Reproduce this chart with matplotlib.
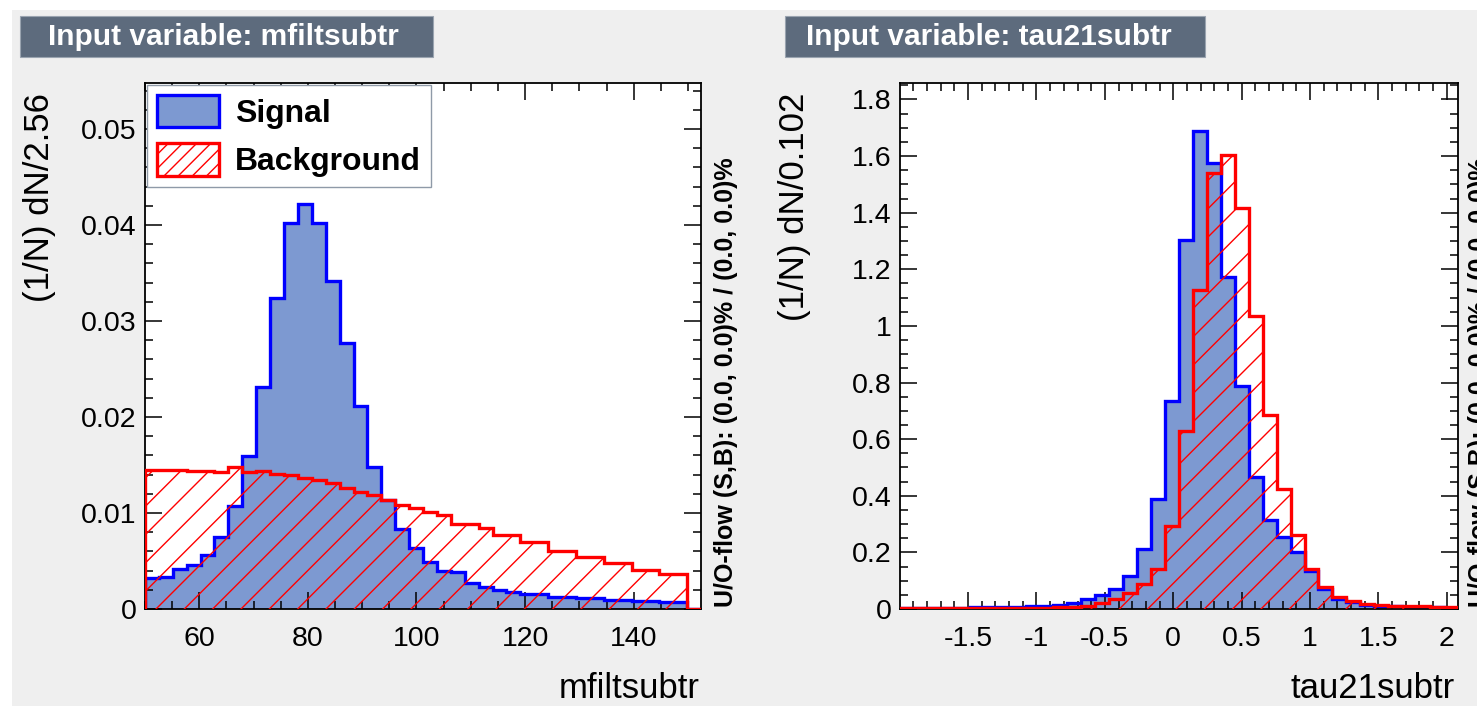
import numpy as np
import matplotlib
matplotlib.use('Agg')
import matplotlib.pyplot as plt
from matplotlib.patches import Rectangle, Patch
from matplotlib.ticker import MultipleLocator, FuncFormatter

# hatch spacing is tied to dpi, so render at 85 dpi and scale point sizes up
DPI = 85
S = 100.0 / DPI

plt.rcParams['font.family'] = ['Liberation Sans', 'DejaVu Sans']
plt.rcParams['axes.unicode_minus'] = False
plt.rcParams['hatch.color'] = 'red'
plt.rcParams['hatch.linewidth'] = 1.0 * S

# binning: 40 bins per variable
mfilt_range = (50.0, 152.4)
tau_range = (-1.998, 2.082)
n_bins = 40

# normalised histograms, (1/N) dN/dx
sig_mfilt = [0.0032, 0.0033, 0.0042, 0.0046, 0.0056, 0.0075, 0.0107, 0.0159, 0.0231, 0.0324,
             0.0402, 0.0422, 0.0402, 0.0342, 0.0277, 0.0212, 0.0148, 0.0114, 0.0083, 0.0064,
             0.0049, 0.0040, 0.0039, 0.0027, 0.0023, 0.0020, 0.0018, 0.0016, 0.0016, 0.0013,
             0.0013, 0.0011, 0.0011, 0.0009, 0.0009, 0.0008, 0.0008, 0.0007, 0.0007, 0.0]
bkg_mfilt = [0.0145, 0.0145, 0.0145, 0.0144, 0.0144, 0.0143, 0.0148, 0.0143, 0.0144, 0.0141,
             0.0140, 0.0136, 0.0134, 0.0131, 0.0126, 0.0122, 0.0119, 0.0114, 0.0108, 0.0105,
             0.0101, 0.0098, 0.0089, 0.0089, 0.0084, 0.0077, 0.0077, 0.0070, 0.0070, 0.0060,
             0.0060, 0.0054, 0.0054, 0.0048, 0.0048, 0.0041, 0.0041, 0.0036, 0.0036, 0.0]

sig_tau = [0.004, 0.004, 0.004, 0.004, 0.005, 0.006, 0.006, 0.007, 0.008, 0.009,
           0.012, 0.015, 0.021, 0.035, 0.049, 0.070, 0.115, 0.211, 0.387, 0.736,
           1.304, 1.688, 1.574, 1.174, 0.786, 0.468, 0.315, 0.255, 0.203, 0.133,
           0.070, 0.035, 0.023, 0.015, 0.012, 0.010, 0.008, 0.007, 0.006, 0.005]
bkg_tau = [0.002, 0.002, 0.002, 0.002, 0.003, 0.003, 0.004, 0.004, 0.004, 0.005,
           0.005, 0.006, 0.007, 0.012, 0.021, 0.037, 0.058, 0.090, 0.143, 0.294,
           0.627, 1.127, 1.541, 1.604, 1.415, 1.036, 0.686, 0.425, 0.260, 0.140,
           0.076, 0.042, 0.027, 0.019, 0.014, 0.012, 0.010, 0.009, 0.008, 0.007]

sig_fill = '#7d99d1'
W, H = 1478, 706

fig = plt.figure(figsize=(W / DPI, H / DPI), dpi=DPI)
fig.patch.set_facecolor('white')
fig.add_artist(Rectangle((12 / W, 0), 1, 1 - 10 / H, transform=fig.transFigure,
                         facecolor='#efefef', edgecolor='none', zorder=-10))


def px(x0, y0, x1, y1):
    # pixel box (top-left origin) -> figure fraction rect
    return [x0 / W, 1 - y1 / H, (x1 - x0) / W, (y1 - y0) / H]


def title_box(x0, x1, tx, text):
    fig.add_artist(Rectangle((x0 / W, 1 - 57 / H), (x1 - x0) / W, 41 / H,
                             transform=fig.transFigure, facecolor='#5d6b7d',
                             edgecolor='#9aa4b0', lw=0.8 * S))
    fig.text(tx / W, 1 - 37 / H, text, color='white', fontsize=21.5 * S,
             fontweight='bold', va='center', ha='left')


def draw_panel(ax, edges, sig, bkg, ymax, xmaj, xmin_, ymaj, ymin_):
    ax.set_facecolor('white')
    ax.stairs(sig, edges, fill=True, facecolor=sig_fill, edgecolor='none', lw=0, zorder=1)
    ax.stairs(sig, edges, baseline=0, fill=False, color='#0000ff', lw=2.4 * S, zorder=2)
    ax.stairs(bkg, edges, fill=True, facecolor='none', edgecolor='red', lw=0,
              hatch='/', zorder=3)
    ax.stairs(bkg, edges, baseline=0, fill=False, color='#ff0000', lw=2.4 * S, zorder=4)
    ax.set_xlim(edges[0], edges[-1])
    ax.set_ylim(0, ymax)
    ax.xaxis.set_major_locator(MultipleLocator(xmaj))
    ax.xaxis.set_minor_locator(MultipleLocator(xmin_))
    ax.yaxis.set_major_locator(MultipleLocator(ymaj))
    ax.yaxis.set_minor_locator(MultipleLocator(ymin_))
    fmt = FuncFormatter(lambda v, p: '%g' % round(v, 6))
    ax.xaxis.set_major_formatter(fmt)
    ax.yaxis.set_major_formatter(fmt)
    ax.tick_params(which='both', direction='in', top=True, right=True, width=1.1 * S,
                   labelsize=20.5 * S, colors='black')
    ax.tick_params(which='major', length=12 * S)
    ax.tick_params(which='minor', length=6 * S)
    ax.tick_params(axis='x', which='major', pad=12 * S)
    ax.tick_params(axis='y', which='major', pad=6 * S)
    for s in ax.spines.values():
        s.set_linewidth(1.3 * S)


edges_m = np.linspace(mfilt_range[0], mfilt_range[1], n_bins + 1)
edges_t = np.linspace(tau_range[0], tau_range[1], n_bins + 1)

ax1 = fig.add_axes(px(145, 83, 701, 609))
draw_panel(ax1, edges_m, sig_mfilt, bkg_mfilt, 0.0548, 20, 5, 0.01, 0.002)
ax2 = fig.add_axes(px(900, 83, 1458, 609))
draw_panel(ax2, edges_t, sig_tau, bkg_tau, 1.858, 0.5, 0.1, 0.2, 0.05)

title_box(20, 433, 48, 'Input variable: mfiltsubtr')
title_box(785, 1205, 806, 'Input variable: tau21subtr')

fig.text(40 / W, 1 - 93 / H, '(1/N) dN/2.56', rotation=90, fontsize=25 * S,
         ha='center', va='top')
fig.text(795 / W, 1 - 93 / H, '(1/N) dN/0.102', rotation=90, fontsize=25 * S,
         ha='center', va='top')
fig.text(700 / W, 1 - 688 / H, 'mfiltsubtr', fontsize=25 * S, ha='right', va='center')
fig.text(1455 / W, 1 - 688 / H, 'tau21subtr', fontsize=25 * S, ha='right', va='center')

flow = 'U/O-flow (S,B): (0.0, 0.0)% / (0.0, 0.0)%'
fig.text(726 / W, 1 - 607 / H, flow, rotation=90, fontsize=18 * S, fontweight='bold',
         ha='center', va='bottom')
fig.text(1480 / W, 1 - 607 / H, flow, rotation=90, fontsize=18 * S, fontweight='bold',
         ha='center', va='bottom')

handles = [Patch(facecolor=sig_fill, edgecolor='#0000ff', lw=2.4 * S, label='Signal'),
           Patch(facecolor='white', edgecolor='#ff0000', lw=2.4 * S, hatch='//',
                 label='Background')]
leg = ax1.legend(handles=handles, loc='upper left', bbox_to_anchor=(0.004, 0.996),
                 prop={'weight': 'bold', 'size': 23 * S}, frameon=True,
                 fancybox=False, handlelength=1.95, handleheight=1.2,
                 handletextpad=0.5, labelspacing=0.45, borderpad=0.3,
                 borderaxespad=0.0, framealpha=1)
leg.get_frame().set_edgecolor('#8f9aa8')
leg.get_frame().set_linewidth(1.0 * S)
leg.set_zorder(10)

fig.savefig('out.png', dpi=DPI)
